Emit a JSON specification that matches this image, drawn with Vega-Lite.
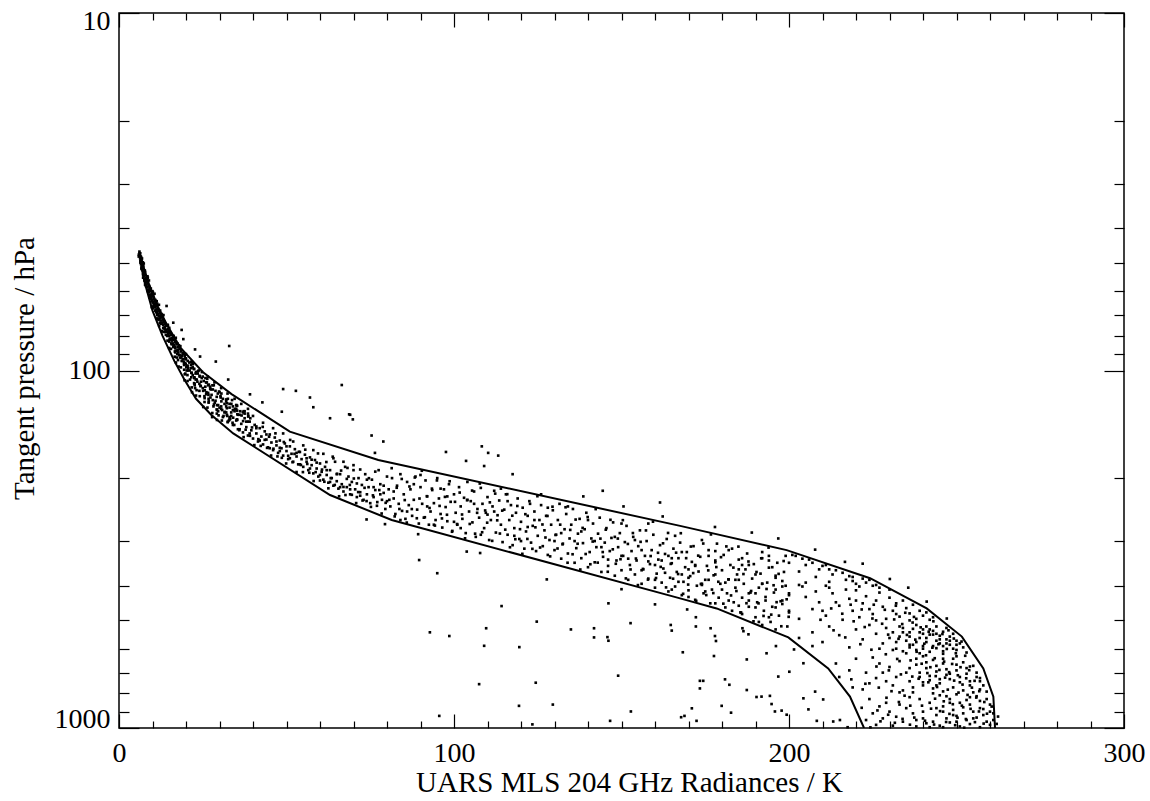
{
"$schema":"https://vega.github.io/schema/vega-lite/v6.json",
"width":1005,"height":715,
"autosize":{"type":"none"},
"padding":{"left":119,"top":13,"right":26,"bottom":73},
"background":"white",
"config":{"view":{"stroke":"black","strokeWidth":1.5},"font":"Liberation Serif","axis":{"domain":false,"grid":false,"labelFont":"Liberation Serif","titleFont":"Liberation Serif","labelFontSize":28,"titleFontSize":29,"labelColor":"black","titleColor":"black","titleFontWeight":"normal","tickColor":"black","tickWidth":1.2}},
"datasets":{
"lns":[
{"s":"a","i":0,"r":6.1,"p":46.7},{"s":"a","i":1,"r":8.5,"p":56},{"s":"a","i":2,"r":11.5,"p":66},{"s":"a","i":3,"r":14.5,"p":75},{"s":"a","i":4,"r":18.2,"p":86},{"s":"a","i":5,"r":25,"p":101},{"s":"a","i":6,"r":33.6,"p":116.4},{"s":"a","i":7,"r":51,"p":148.3},{"s":"a","i":8,"r":77.4,"p":178},{"s":"a","i":9,"r":167.5,"p":272},{"s":"a","i":10,"r":199.3,"p":318},{"s":"a","i":11,"r":224.2,"p":381},{"s":"a","i":12,"r":241.1,"p":463},{"s":"a","i":13,"r":251.6,"p":555},{"s":"a","i":14,"r":258,"p":681},{"s":"a","i":15,"r":261,"p":817},{"s":"a","i":16,"r":261.5,"p":1000},
{"s":"b","i":0,"r":6.1,"p":46.7},{"s":"b","i":1,"r":7.5,"p":56},{"s":"b","i":2,"r":10,"p":68},{"s":"b","i":3,"r":13,"p":80},{"s":"b","i":4,"r":16.5,"p":94},{"s":"b","i":5,"r":19.5,"p":106},{"s":"b","i":6,"r":23,"p":120},{"s":"b","i":7,"r":27.5,"p":133},{"s":"b","i":8,"r":34.1,"p":150},{"s":"b","i":9,"r":63,"p":223},{"s":"b","i":10,"r":81.4,"p":262},{"s":"b","i":11,"r":167.5,"p":434},{"s":"b","i":12,"r":178.4,"p":463},{"s":"b","i":13,"r":199.8,"p":558},{"s":"b","i":14,"r":211.7,"p":681},{"s":"b","i":15,"r":218.2,"p":817},{"s":"b","i":16,"r":222.4,"p":1000}
],
"pts":[
{"r":6.1,"p":46.5},{"r":6.3,"p":47},{"r":6.0,"p":47.5},{"r":6.5,"p":48},{"r":6.3,"p":48.5},{"r":6.7,"p":49},{"r":6.4,"p":49.5},{"r":6.9,"p":50},{"r":6.6,"p":50.5},{"r":7.1,"p":51},{"r":6.8,"p":51.5},{"r":7.3,"p":52},{"r":7.0,"p":52.5},{"r":7.6,"p":53},{"r":7.2,"p":53.5},{"r":7.9,"p":54},{"r":7.4,"p":54.5},{"r":8.1,"p":55},{"r":7.7,"p":55.5},{"r":8.4,"p":56},{"r":8.0,"p":56.5},{"r":8.6,"p":57},{"r":8.2,"p":57.5},{"r":9.0,"p":58},{"r":8.5,"p":58.5},{"r":9.2,"p":59},{"r":8.8,"p":59.5},{"r":9.4,"p":60},{"r":8.9,"p":60.5},{"r":9.7,"p":61},{"r":9.3,"p":61.5},{"r":10.0,"p":62},{"r":9.5,"p":62.5},{"r":10.3,"p":63},{"r":9.9,"p":63.5},{"r":10.6,"p":64},{"r":10.1,"p":64.5},{"r":10.9,"p":65},{"r":10.4,"p":65.5},{"r":11.2,"p":66},{"r":10.7,"p":66.5},{"r":11.5,"p":67},{"r":11.0,"p":67.5},{"r":11.9,"p":68},{"r":11.3,"p":68.5},{"r":12.1,"p":69},{"r":11.7,"p":69.5},{"r":12.4,"p":70},{"r":11.9,"p":70.5},{"r":12.8,"p":71},{"r":12.2,"p":71.5},{"r":13.1,"p":72},{"r":12.5,"p":72.5},{"r":13.4,"p":73},{"r":12.9,"p":73.5},{"r":13.8,"p":74},{"r":13.2,"p":74.5},{"r":14.0,"p":75},{"r":13.6,"p":76},{"r":14.6,"p":76.5},{"r":13.9,"p":77},{"r":14.9,"p":77.5},{"r":14.3,"p":78},{"r":15.3,"p":78.5},{"r":14.7,"p":79},{"r":15.6,"p":79.5},{"r":15.0,"p":80},{"r":15.9,"p":81},{"r":15.2,"p":81.5},{"r":16.3,"p":82},{"r":15.8,"p":82.5},{"r":16.7,"p":83},{"r":16.1,"p":84},{"r":17.2,"p":84.5},{"r":16.5,"p":85},{"r":17.6,"p":86},{"r":16.8,"p":86.5},{"r":18.1,"p":87},{"r":17.3,"p":88},{"r":18.5,"p":88.5},{"r":17.7,"p":89},{"r":19.0,"p":90},{"r":18.1,"p":90.5},{"r":19.6,"p":91},{"r":18.6,"p":92},{"r":20.0,"p":92.5},{"r":19.1,"p":93},{"r":20.5,"p":94},{"r":19.4,"p":94.5},{"r":21.0,"p":95},{"r":19.9,"p":96},{"r":21.5,"p":96.5},{"r":20.3,"p":97},{"r":22.0,"p":98},{"r":20.7,"p":98.5},{"r":22.4,"p":99},{"r":21.1,"p":100},{"r":23.0,"p":101},{"r":21.6,"p":101.5},{"r":23.5,"p":102},{"r":22.0,"p":103},{"r":24.1,"p":104},{"r":22.5,"p":104.5},{"r":24.7,"p":105},{"r":22.9,"p":106},{"r":25.3,"p":107},{"r":23.4,"p":107.5},{"r":26.0,"p":108},{"r":24.0,"p":109},{"r":26.6,"p":110},{"r":24.4,"p":110.5},{"r":27.2,"p":111},{"r":25.0,"p":112},{"r":28.0,"p":113},{"r":25.6,"p":113.5},{"r":28.8,"p":114},{"r":26.1,"p":115},{"r":29.5,"p":116},{"r":26.7,"p":117},{"r":30.3,"p":118},{"r":27.3,"p":119},{"r":31.0,"p":120},{"r":28.0,"p":121},{"r":32.0,"p":122},{"r":28.6,"p":123},{"r":33.0,"p":124},{"r":29.3,"p":125},{"r":34.0,"p":126},{"r":30.0,"p":127},{"r":35.0,"p":128},{"r":30.8,"p":129},{"r":36.2,"p":130},{"r":31.5,"p":131},{"r":37.5,"p":132},{"r":32.2,"p":133},{"r":38.6,"p":134},{"r":33.0,"p":135},
{"r":5.9,"p":48},{"r":6.4,"p":50},{"r":6.7,"p":52},{"r":7.2,"p":54},{"r":7.6,"p":56},{"r":8.1,"p":58},{"r":8.6,"p":60},{"r":9.2,"p":62},{"r":9.8,"p":64},{"r":10.3,"p":66},{"r":10.8,"p":68},{"r":11.4,"p":70},{"r":11.9,"p":72},{"r":12.5,"p":74},{"r":13.2,"p":76},{"r":13.8,"p":78},{"r":14.4,"p":80},{"r":15.1,"p":82},{"r":15.6,"p":84},{"r":16.2,"p":86},{"r":16.9,"p":88},{"r":17.4,"p":90},{"r":18.2,"p":92},{"r":18.8,"p":94},{"r":19.4,"p":96},{"r":20.1,"p":98},{"r":20.6,"p":100},{"r":8.6,"p":55},{"r":10.0,"p":60},{"r":11.4,"p":65},{"r":13.0,"p":70},{"r":14.6,"p":75},{"r":16.3,"p":80},{"r":17.9,"p":85},{"r":19.8,"p":90},{"r":21.8,"p":95},{"r":23.8,"p":100},{"r":25.8,"p":105},{"r":27.9,"p":110},{"r":30.0,"p":115},{"r":32.5,"p":120},{"r":35.0,"p":125},{"r":37.5,"p":130},
{"r":19.8,"p":102},{"r":21.2,"p":106},{"r":22.6,"p":110},{"r":24.0,"p":114},{"r":25.5,"p":118},{"r":26.8,"p":122},{"r":28.2,"p":126},{"r":29.6,"p":130},{"r":31.2,"p":134},{"r":32.8,"p":138},{"r":34.4,"p":142},{"r":26.5,"p":104},{"r":28.5,"p":108},{"r":30.5,"p":112},{"r":32.4,"p":116},{"r":34.5,"p":120},{"r":36.5,"p":124},{"r":38.5,"p":128},
{"r":6.25,"p":47},{"r":6.09,"p":47.8},{"r":6.86,"p":48.6},{"r":6.52,"p":49.4},{"r":7.39,"p":50.2},{"r":7.22,"p":51},{"r":6.95,"p":52},{"r":7.8,"p":53},{"r":7.6,"p":54},{"r":7.2,"p":55},{"r":8.93,"p":56},{"r":8.59,"p":57},{"r":8.09,"p":58},{"r":9.5,"p":59},{"r":8.94,"p":60},{"r":10.6,"p":61},{"r":10.16,"p":62},{"r":9.54,"p":63},{"r":11.24,"p":64},{"r":10.53,"p":65},{"r":10.93,"p":66},{"r":10.16,"p":67},{"r":12.28,"p":68},{"r":11.25,"p":69},{"r":13.27,"p":70},{"r":12.6,"p":71},{"r":11.76,"p":72},{"r":13.46,"p":73},{"r":12.93,"p":74},{"r":12.0,"p":75},{"r":15.0,"p":76},{"r":14.2,"p":77},{"r":13.28,"p":78},{"r":15.5,"p":79},{"r":14.46,"p":80},{"r":16.95,"p":81},{"r":16.1,"p":82},{"r":14.98,"p":83},{"r":17.41,"p":84},{"r":16.27,"p":85},{"r":16.78,"p":86},{"r":15.5,"p":87},{"r":18.58,"p":88},{"r":16.83,"p":89},{"r":19.98,"p":90},{"r":18.78,"p":91},{"r":17.24,"p":92},{"r":19.93,"p":93},{"r":18.77,"p":94},{"r":17.0,"p":95},{"r":22.06,"p":96},{"r":20.48,"p":97},{"r":18.47,"p":98},{"r":22.38,"p":99},{"r":20.2,"p":100},{"r":24.75,"p":101},{"r":22.86,"p":102},{"r":20.43,"p":103},{"r":24.99,"p":104},{"r":22.49,"p":105},{"r":23.2,"p":106},{"r":20.47,"p":107},{"r":26.22,"p":108},{"r":22.58,"p":109},{"r":28.29,"p":110},{"r":25.77,"p":111},{"r":22.72,"p":112},{"r":27.45,"p":113},{"r":25.12,"p":114},{"r":21.8,"p":115},{"r":30.56,"p":116},{"r":27.63,"p":117},{"r":24.11,"p":118},{"r":30.36,"p":119},{"r":26.74,"p":120},{"r":33.75,"p":121},{"r":30.56,"p":122},{"r":26.75,"p":123},{"r":33.54,"p":124},{"r":29.6,"p":125},{"r":30.5,"p":126},{"r":26.4,"p":127},{"r":34.6,"p":128},{"r":29.3,"p":129},{"r":37.2,"p":130},{"r":33.5,"p":131},{"r":29.2,"p":132},{"r":35.5,"p":133},{"r":32.3,"p":134},{"r":27.8,"p":135},{"r":39.2,"p":136},{"r":35.2,"p":137},{"r":30.7,"p":138},{"r":38.5,"p":139},{"r":33.9,"p":140},
{"r":5.95,"p":47.4},{"r":6.59,"p":48.2},{"r":6.45,"p":49},{"r":7.13,"p":49.8},{"r":6.95,"p":50.6},{"r":6.72,"p":51.5},{"r":7.7,"p":52.5},{"r":7.21,"p":53.5},{"r":8.5,"p":54.5},{"r":8.13,"p":55.5},{"r":8.2,"p":56.5},{"r":7.79,"p":57.5},{"r":9.17,"p":58.5},{"r":8.61,"p":59.5},{"r":10.13,"p":60.5},{"r":9.68,"p":61.5},{"r":9.17,"p":62.5},{"r":10.86,"p":63.5},{"r":10.16,"p":64.5},{"r":11.92,"p":65.5},{"r":9.77,"p":66.5},{"r":11.61,"p":67.5},{"r":11.11,"p":68.5},{"r":12.71,"p":69.5},{"r":12.05,"p":70.5},{"r":11.35,"p":71.5},{"r":13.31,"p":72.5},{"r":12.2,"p":73.5},{"r":14.55,"p":74.5},{"r":13.64,"p":75.5},{"r":13.6,"p":76.5},{"r":12.81,"p":77.5},{"r":15.02,"p":78.5},{"r":13.99,"p":79.5},{"r":16.27,"p":80.5},{"r":15.4,"p":81.5},{"r":14.48,"p":82.5},{"r":16.88,"p":83.5},{"r":15.75,"p":84.5},{"r":18.31,"p":85.5},{"r":14.97,"p":86.5},{"r":17.63,"p":87.5},{"r":16.67,"p":88.5},{"r":19.13,"p":89.5},{"r":17.94,"p":90.5},{"r":16.63,"p":91.5},{"r":19.76,"p":92.5},{"r":17.62,"p":93.5},{"r":21.49,"p":94.5},{"r":19.75,"p":95.5},{"r":19.5,"p":96.5},{"r":17.79,"p":97.5},{"r":21.57,"p":98.5},{"r":19.45,"p":99.5},{"r":23.56,"p":100.5},{"r":21.67,"p":101.5},{"r":19.62,"p":102.5},{"r":24.07,"p":103.5},{"r":21.59,"p":104.5},{"r":26.35,"p":105.5},{"r":19.57,"p":106.5},{"r":24.48,"p":107.5},{"r":22.42,"p":108.5},{"r":26.83,"p":109.5},{"r":24.32,"p":110.5},{"r":21.7,"p":111.5},{"r":27.23,"p":112.5},{"r":23.16,"p":113.5},{"r":29.86,"p":114.5},{"r":26.6,"p":115.5},{"r":26.02,"p":116.5},{"r":22.98,"p":117.5},{"r":29.17,"p":118.5},{"r":25.56,"p":119.5},{"r":31.99,"p":120.5},{"r":28.81,"p":121.5},{"r":25.53,"p":122.5},{"r":32.25,"p":123.5},{"r":28.34,"p":124.5},{"r":35.27,"p":125.5},{"r":25.15,"p":126.5},{"r":32.2,"p":127.5},{"r":29.16,"p":128.5},{"r":35.27,"p":129.5},{"r":31.6,"p":130.5},{"r":27.85,"p":131.5},{"r":35.33,"p":132.5},{"r":29.72,"p":133.5},{"r":38.56,"p":134.5},{"r":34.08,"p":135.5},{"r":33.2,"p":136.5},{"r":29.24,"p":137.5},{"r":37.05,"p":138.5},{"r":32.44,"p":139.5},
{"r":14.2,"p":66},{"r":16.2,"p":73.5},{"r":18.7,"p":77},{"r":19.2,"p":81.7},{"r":22.7,"p":87.3},{"r":32.9,"p":85.4},{"r":28.9,"p":94.4},{"r":24.2,"p":91.4},{"r":32.6,"p":106},{"r":39.1,"p":116.6},{"r":42.8,"p":122.8},{"r":48.6,"p":130.4},{"r":49,"p":112.7},{"r":52.8,"p":114},{"r":57,"p":119},{"r":58,"p":126.7},{"r":66.5,"p":109.8},{"r":63,"p":136},{"r":68.7,"p":132.6},{"r":69,"p":133},{"r":69.8,"p":137},{"r":75.4,"p":152},{"r":78.9,"p":158},{"r":76.4,"p":170},{"r":97.6,"p":169},{"r":103.6,"p":179},{"r":108.3,"p":163},{"r":110.2,"p":170},{"r":113.2,"p":173},{"r":109,"p":185},{"r":117.5,"p":195},{"r":144.4,"p":217},{"r":150.6,"p":240},{"r":161.5,"p":234},{"r":138.6,"p":225},{"r":177.9,"p":274},{"r":188.9,"p":284},{"r":196.8,"p":295},{"r":207.8,"p":317},{"r":216.7,"p":343},{"r":222,"p":347},{"r":230.1,"p":383},{"r":235.6,"p":405},{"r":241.1,"p":443},{"r":247.1,"p":494},{"r":254,"p":673},{"r":257,"p":725},{"r":259,"p":791},{"r":260.5,"p":871},{"r":262.4,"p":929},{"r":262,"p":974},{"r":162.3,"p":256},
{"r":30.5,"p":128},{"r":31,"p":135},{"r":31.5,"p":124},{"r":32,"p":131},{"r":32.5,"p":139},{"r":33,"p":127},{"r":33.5,"p":134},{"r":34,"p":142},{"r":34.5,"p":130},{"r":35,"p":138},{"r":35.5,"p":146},{"r":36,"p":133},{"r":36.5,"p":141},{"r":37,"p":149},{"r":37.5,"p":136},{"r":38,"p":144},{"r":38.5,"p":152},{"r":39,"p":139},{"r":39.5,"p":147},{"r":40,"p":155},{"r":40.5,"p":142},{"r":41,"p":150},{"r":41.5,"p":158},{"r":42,"p":145},{"r":42.5,"p":153},{"r":43,"p":161},{"r":43.5,"p":148},{"r":44,"p":156},{"r":44.5,"p":164},{"r":45,"p":151},{"r":45.5,"p":159},{"r":46,"p":167},{"r":46.5,"p":154},{"r":47,"p":162},{"r":47.5,"p":170},{"r":48,"p":157},{"r":48.5,"p":165},{"r":49,"p":173},{"r":49.5,"p":160},{"r":50,"p":168},{"r":50.5,"p":177},{"r":51,"p":163},{"r":51.5,"p":171},{"r":52,"p":180},{"r":52.5,"p":166},{"r":53,"p":174},{"r":53.5,"p":183},{"r":54,"p":169},{"r":54.5,"p":177},{"r":55,"p":186},{"r":55.5,"p":172},{"r":56,"p":180},{"r":56.5,"p":190},{"r":57,"p":175},{"r":57.5,"p":184},{"r":58,"p":194},{"r":58.5,"p":178},{"r":59,"p":188},{"r":59.5,"p":198},{"r":60,"p":182},{"r":60.5,"p":192},{"r":61,"p":202},{"r":61.5,"p":186},{"r":62,"p":196},{"r":62.5,"p":206},{"r":63,"p":190},{"r":63.5,"p":200},{"r":64,"p":210},{"r":64.5,"p":180},{"r":65,"p":204},{"r":65.5,"p":214},{"r":66,"p":195},{"r":66.5,"p":208},{"r":67,"p":218},{"r":67.5,"p":186},{"r":68,"p":212},{"r":68.5,"p":198},{"r":69,"p":222},{"r":69.5,"p":205},{"r":70,"p":190},{"r":70.5,"p":215},{"r":71,"p":226},{"r":71.5,"p":200},{"r":72,"p":219},{"r":72.5,"p":209},{"r":73,"p":230},{"r":73.5,"p":195},{"r":74,"p":222},{"r":74.5,"p":212},{"r":75,"p":235},{"r":75.5,"p":202},{"r":76,"p":226},{"r":76.5,"p":216},{"r":77,"p":239},{"r":77.5,"p":190},{"r":78,"p":208},{"r":78.5,"p":230},{"r":79,"p":220},{"r":79.5,"p":244},{"r":80,"p":198},
{"r":32,"p":126},{"r":33,"p":137},{"r":34,"p":129},{"r":35,"p":125},{"r":36,"p":146},{"r":37,"p":131},{"r":38,"p":139},{"r":39,"p":150},{"r":40,"p":134},{"r":41,"p":145},{"r":42,"p":157},{"r":43,"p":140},{"r":44,"p":151},{"r":45,"p":165},{"r":46,"p":145},{"r":47,"p":158},{"r":48,"p":168},{"r":49,"p":150},{"r":50,"p":163},{"r":51,"p":176},{"r":52,"p":158},{"r":53,"p":170},{"r":54,"p":183},{"r":55,"p":162},{"r":56,"p":176},{"r":57,"p":188},{"r":58,"p":167},{"r":59,"p":181},{"r":60,"p":196},{"r":61,"p":171},{"r":62,"p":190},{"r":63,"p":205},{"r":64,"p":176},{"r":65,"p":195},{"r":66,"p":212},{"r":67,"p":180},{"r":68,"p":201},{"r":69,"p":215},{"r":70,"p":184},{"r":71,"p":207},{"r":72,"p":224},{"r":74,"p":202},{"r":76,"p":212},{"r":78,"p":222},{"r":80,"p":232},
{"r":35.3,"p":137.4},{"r":35.9,"p":146.9},{"r":36.6,"p":133.6},{"r":37.2,"p":153.6},{"r":37.8,"p":146.4},{"r":38.5,"p":132},{"r":39.1,"p":152.3},{"r":39.7,"p":144.3},{"r":40.4,"p":161.7},{"r":41.0,"p":143.4},{"r":41.6,"p":155.6},{"r":42.3,"p":162.5},{"r":42.9,"p":143.8},{"r":43.5,"p":156.3},{"r":44.2,"p":164.6},{"r":44.8,"p":153.2},{"r":45.4,"p":172.9},{"r":46.1,"p":165.5},{"r":46.7,"p":149.9},{"r":47.3,"p":173.9},{"r":48.0,"p":164.5},{"r":48.6,"p":175.5},{"r":49.2,"p":158.5},{"r":49.9,"p":182},{"r":50.5,"p":173.2},{"r":51.1,"p":156.4},{"r":51.8,"p":180.5},{"r":52.4,"p":171.1},{"r":53.0,"p":192.3},{"r":53.7,"p":168.8},{"r":54.3,"p":183.8},{"r":54.9,"p":192.4},{"r":55.6,"p":166.5},{"r":56.2,"p":182.6},{"r":56.8,"p":193.2},{"r":57.5,"p":177.6},{"r":58.1,"p":203.8},{"r":58.7,"p":192.4},{"r":59.4,"p":170.6},{"r":60.0,"p":203.1},{"r":60.6,"p":189.3},{"r":61.3,"p":204.7},{"r":61.9,"p":180.3},{"r":62.5,"p":213.6},{"r":63.2,"p":200},{"r":63.8,"p":174.2},{"r":64.4,"p":209},{"r":65.1,"p":194.5},{"r":65.7,"p":224.8},{"r":66.3,"p":190.5},{"r":67.0,"p":211.7},{"r":67.6,"p":223},{"r":68.2,"p":187.3},{"r":68.9,"p":209},{"r":69.5,"p":222.7},{"r":70.1,"p":200.5},{"r":70.8,"p":234.9},{"r":71.4,"p":218.8},{"r":72.0,"p":189.2},{"r":72.7,"p":231},{"r":73.3,"p":212.9},{"r":73.9,"p":231.9},{"r":74.6,"p":200.1},{"r":75.2,"p":240.7},{"r":75.8,"p":223.5},{"r":76.5,"p":191.8},{"r":77.1,"p":233.4},{"r":77.7,"p":216},{"r":78.4,"p":251.2},{"r":79.0,"p":210},{"r":79.6,"p":234.5},
{"r":80.5,"p":215},{"r":81,"p":240},{"r":81.5,"p":200},{"r":82,"p":228},{"r":82.5,"p":252},{"r":83,"p":210},{"r":83.5,"p":236},{"r":84,"p":195},{"r":84.5,"p":247},{"r":85,"p":222},{"r":85.5,"p":260},{"r":86,"p":205},{"r":86.5,"p":238},{"r":87,"p":215},{"r":87.5,"p":255},{"r":88,"p":230},{"r":88.5,"p":198},{"r":89,"p":245},{"r":89.5,"p":268},{"r":90,"p":212},{"r":90.5,"p":236},{"r":91,"p":258},{"r":91.5,"p":203},{"r":92,"p":225},{"r":92.5,"p":270},{"r":93,"p":248},{"r":93.5,"p":216},{"r":94,"p":235},{"r":94.5,"p":262},{"r":95,"p":200},{"r":95.5,"p":228},{"r":96,"p":252},{"r":96.5,"p":275},{"r":97,"p":215},{"r":97.5,"p":241},{"r":98,"p":264},{"r":98.5,"p":208},{"r":99,"p":233},{"r":99.5,"p":281},{"r":100,"p":222},{"r":100.5,"p":250},{"r":101,"p":270},{"r":101.5,"p":212},{"r":102,"p":240},{"r":102.5,"p":260},{"r":103,"p":227},{"r":103.5,"p":285},{"r":104,"p":205},{"r":104.5,"p":248},{"r":105,"p":232},{"r":105.5,"p":266},{"r":106,"p":218},{"r":106.5,"p":292},{"r":107,"p":244},{"r":107.5,"p":258},{"r":108,"p":213},{"r":108.5,"p":236},{"r":109,"p":276},{"r":109.5,"p":250},{"r":110,"p":226},{"r":110.5,"p":298},{"r":111,"p":262},{"r":111.5,"p":240},{"r":112,"p":217},{"r":112.5,"p":284},{"r":113,"p":254},{"r":113.5,"p":231},{"r":114,"p":270},{"r":114.5,"p":302},{"r":115,"p":245},{"r":115.5,"p":222},{"r":116,"p":288},{"r":116.5,"p":262},{"r":117,"p":238},{"r":117.5,"p":308},{"r":118,"p":276},{"r":118.5,"p":250},{"r":119,"p":228},{"r":119.5,"p":296},{"r":120,"p":265},{"r":120.5,"p":242},{"r":121,"p":315},{"r":121.5,"p":282},{"r":122,"p":255},{"r":122.5,"p":232},{"r":123,"p":303},{"r":123.5,"p":272},{"r":124,"p":248},{"r":124.5,"p":320},{"r":125,"p":290},{"r":125.5,"p":262},{"r":126,"p":238},{"r":126.5,"p":310},{"r":127,"p":280},{"r":127.5,"p":255},{"r":128,"p":328},{"r":128.5,"p":298},{"r":129,"p":270},{"r":129.5,"p":246},{"r":130,"p":318},{"r":130.5,"p":288},{"r":131,"p":262},{"r":131.5,"p":236},{"r":132,"p":336},{"r":132.5,"p":305},{"r":133,"p":278},{"r":133.5,"p":252},{"r":134,"p":325},{"r":134.5,"p":295},{"r":135,"p":270},{"r":135.5,"p":244},{"r":136,"p":345},{"r":136.5,"p":314},{"r":137,"p":286},{"r":137.5,"p":260},{"r":138,"p":335},{"r":138.5,"p":304},{"r":139,"p":278},{"r":139.5,"p":250},{"r":140,"p":355},{"r":140.5,"p":322},{"r":141,"p":295},{"r":141.5,"p":268},{"r":142,"p":344},{"r":142.5,"p":312},{"r":143,"p":286},{"r":143.5,"p":258},{"r":144,"p":366},{"r":144.5,"p":332},{"r":145,"p":303},{"r":145.5,"p":276},{"r":146,"p":352},{"r":146.5,"p":320},{"r":147,"p":294},{"r":147.5,"p":266},{"r":148,"p":375},{"r":148.5,"p":340},{"r":149,"p":312},{"r":149.5,"p":285},{"r":150,"p":362},{"r":150.5,"p":330},{"r":151,"p":302},{"r":151.5,"p":272},{"r":152,"p":385},{"r":152.5,"p":350},{"r":153,"p":320},{"r":153.5,"p":292},{"r":154,"p":372},{"r":154.5,"p":340},{"r":155,"p":310},{"r":155.5,"p":280},{"r":156,"p":395},{"r":156.5,"p":360},{"r":157,"p":330},{"r":157.5,"p":300},{"r":158,"p":382},{"r":158.5,"p":348},{"r":159,"p":318},{"r":159.5,"p":288},{"r":160,"p":405},{"r":160.5,"p":370},{"r":161,"p":338},{"r":161.5,"p":308},{"r":162,"p":392},{"r":162.5,"p":358},{"r":163,"p":326},{"r":163.5,"p":296},{"r":164,"p":415},{"r":164.5,"p":380},{"r":165,"p":346},{"r":165.5,"p":315},{"r":166,"p":402},{"r":166.5,"p":366},{"r":167,"p":335},{"r":167.5,"p":303},{"r":168,"p":425},{"r":168.5,"p":390},{"r":169,"p":355},{"r":169.5,"p":322},{"r":170,"p":412},{"r":170.5,"p":376},{"r":171,"p":343},{"r":171.5,"p":310},{"r":172,"p":438},{"r":172.5,"p":400},{"r":173,"p":365},{"r":173.5,"p":332},{"r":174,"p":298},{"r":174.5,"p":420},{"r":175,"p":385},{"r":175.5,"p":352},{"r":176,"p":318},{"r":176.5,"p":448},{"r":177,"p":410},{"r":177.5,"p":374},{"r":178,"p":340},{"r":178.5,"p":305},{"r":179,"p":432},{"r":179.5,"p":395},{"r":180,"p":362},{"r":180.5,"p":328},{"r":181,"p":460},{"r":181.5,"p":420},{"r":182,"p":384},{"r":182.5,"p":350},{"r":183,"p":315},{"r":183.5,"p":445},{"r":184,"p":405},{"r":184.5,"p":372},{"r":185,"p":338},{"r":185.5,"p":475},{"r":186,"p":432},{"r":186.5,"p":395},{"r":187,"p":360},{"r":187.5,"p":325},{"r":188,"p":458},{"r":188.5,"p":418},{"r":189,"p":382},{"r":189.5,"p":348},{"r":190,"p":490},{"r":190.5,"p":445},{"r":191,"p":405},{"r":191.5,"p":370},{"r":192,"p":335},{"r":192.5,"p":470},{"r":193,"p":430},{"r":193.5,"p":392},{"r":194,"p":356},{"r":194.5,"p":505},{"r":195,"p":458},{"r":195.5,"p":418},{"r":196,"p":380},{"r":196.5,"p":345},{"r":197,"p":485},{"r":197.5,"p":442},{"r":198,"p":402},{"r":198.5,"p":366},{"r":199,"p":330},{"r":199.5,"p":520},{"r":200,"p":470},
{"r":80.7,"p":230},{"r":81.4,"p":187.6},{"r":82.3,"p":255.9},{"r":82.9,"p":212.8},{"r":83.7,"p":244},{"r":84.4,"p":201.1},{"r":85.3,"p":230.4},{"r":85.9,"p":266.3},{"r":86.7,"p":211.1},{"r":87.4,"p":244.1},{"r":88.3,"p":199.2},{"r":88.9,"p":259},{"r":89.7,"p":228.1},{"r":90.4,"p":190.7},{"r":91.3,"p":257.3},{"r":91.9,"p":224.7},{"r":92.7,"p":242.4},{"r":93.4,"p":214},{"r":94.3,"p":271.5},{"r":94.9,"p":203},{"r":95.7,"p":239.2},{"r":96.4,"p":259.3},{"r":97.3,"p":225.7},{"r":97.9,"p":253.2},{"r":98.7,"p":204.1},{"r":99.4,"p":282.5},{"r":100.3,"p":233},{"r":100.9,"p":268.8},{"r":101.7,"p":219.5},{"r":102.4,"p":252.8},{"r":103.3,"p":294.7},{"r":103.9,"p":230.6},{"r":104.7,"p":268.7},{"r":105.4,"p":216.7},{"r":106.3,"p":286},{"r":106.9,"p":250.1},{"r":107.7,"p":207.1},{"r":108.4,"p":283.4},{"r":109.3,"p":246.3},{"r":109.9,"p":266.5},{"r":110.7,"p":233.8},{"r":111.4,"p":299.6},{"r":112.3,"p":221},{"r":112.9,"p":262.5},{"r":113.7,"p":285.8},{"r":114.4,"p":246.6},{"r":115.3,"p":278.7},{"r":115.9,"p":221.8},{"r":116.7,"p":312.2},{"r":117.4,"p":254.8},{"r":118.3,"p":296.5},{"r":118.9,"p":239.3},{"r":119.7,"p":277.9},{"r":120.4,"p":325.7},{"r":121.3,"p":252.3},{"r":121.9,"p":295.9},{"r":122.7,"p":236},{"r":123.4,"p":315.4},{"r":124.3,"p":274.6},{"r":124.9,"p":224.7},{"r":125.7,"p":312.7},{"r":126.4,"p":269.6},{"r":127.3,"p":293.2},{"r":127.9,"p":255.2},{"r":128.7,"p":331.1},{"r":129.4,"p":240.4},{"r":130.3,"p":288.4},{"r":130.9,"p":314.7},{"r":131.7,"p":269.9},{"r":132.4,"p":306.4},{"r":133.3,"p":241.3},{"r":133.9,"p":344.9},{"r":134.7,"p":279.2},{"r":135.4,"p":326.6},{"r":136.3,"p":261.2},{"r":136.9,"p":305.2},{"r":137.7,"p":360.3},{"r":138.4,"p":275.6},{"r":139.3,"p":326.1},{"r":139.9,"p":257},{"r":140.7,"p":348.3},{"r":141.4,"p":300.9},{"r":142.3,"p":244.2},{"r":142.9,"p":344.7},{"r":143.7,"p":295.3},{"r":144.4,"p":322},{"r":145.3,"p":278.8},{"r":145.9,"p":365.6},{"r":146.7,"p":261.6},{"r":147.4,"p":316.4},{"r":148.3,"p":347.2},{"r":148.9,"p":295.2},{"r":149.7,"p":337.2},{"r":150.4,"p":262.2},{"r":151.3,"p":381.5},{"r":151.9,"p":305.6},{"r":152.7,"p":360.2},{"r":153.4,"p":284.9},{"r":154.3,"p":335.7},{"r":154.9,"p":398.4},{"r":155.7,"p":301.5},{"r":156.4,"p":358.9},{"r":157.3,"p":280.1},{"r":157.9,"p":384.5},{"r":158.7,"p":330.4},{"r":159.4,"p":264.8},{"r":160.3,"p":380.6},{"r":160.9,"p":323.5},{"r":161.7,"p":354.3},{"r":162.4,"p":304.4},{"r":163.3,"p":404.3},{"r":163.9,"p":284.7},{"r":164.7,"p":347.5},{"r":165.4,"p":382.3},{"r":166.3,"p":323.3},{"r":166.9,"p":371},{"r":167.7,"p":285.2},{"r":168.4,"p":421.3},{"r":169.3,"p":334.9},{"r":169.9,"p":397},{"r":170.7,"p":310.8},{"r":171.4,"p":368.7},{"r":172.3,"p":441},{"r":172.9,"p":329.5},{"r":173.7,"p":395.5},{"r":174.4,"p":304.8},{"r":175.3,"p":424.8},{"r":175.9,"p":362.3},{"r":176.7,"p":287.5},{"r":177.4,"p":419.4},{"r":178.3,"p":354.7},{"r":178.9,"p":389.9},{"r":179.7,"p":332.8},{"r":180.4,"p":448.9},{"r":181.3,"p":310.5},{"r":181.9,"p":384},{"r":182.7,"p":425.8},{"r":183.4,"p":355.9},{"r":184.3,"p":413.9},{"r":184.9,"p":310.9},{"r":185.7,"p":475.4},{"r":186.4,"p":371},{"r":187.3,"p":447.7},{"r":187.9,"p":342.2},{"r":188.7,"p":413.7},{"r":189.4,"p":503},{"r":190.3,"p":366.1},{"r":190.9,"p":448.1},{"r":191.7,"p":335.2},{"r":192.4,"p":485.9},{"r":193.3,"p":408.4},{"r":193.9,"p":312.9},{"r":194.7,"p":481.8},{"r":195.4,"p":398.8},{"r":196.3,"p":444.7},{"r":196.9,"p":370.6},{"r":197.7,"p":519.3},{"r":198.4,"p":341.2},{"r":199.3,"p":436.5},{"r":199.9,"p":488.7},
{"r":82,"p":218},{"r":86,"p":248},{"r":90,"p":196},{"r":94,"p":270},{"r":98,"p":225},{"r":102,"p":276},{"r":106,"p":236},{"r":110,"p":253},{"r":114,"p":214},{"r":118,"p":290},{"r":122,"p":274},{"r":126,"p":222},{"r":130,"p":300},{"r":134,"p":240},{"r":138,"p":282},{"r":142,"p":300},{"r":146,"p":338},{"r":150,"p":268},{"r":154,"p":298},{"r":158,"p":268},{"r":162,"p":340},{"r":166,"p":290},{"r":170,"p":360},{"r":174,"p":395},{"r":178,"p":320},{"r":182,"p":440},{"r":186,"p":350},{"r":190,"p":420},{"r":194,"p":330},{"r":198,"p":440},{"r":84,"p":262},{"r":88,"p":208},{"r":92,"p":240},{"r":96,"p":214},{"r":100,"p":265},{"r":104,"p":230},{"r":108,"p":288},{"r":112,"p":248},{"r":116,"p":232},{"r":120,"p":300},{"r":124,"p":262},{"r":128,"p":242},{"r":132,"p":285},{"r":136,"p":300},{"r":140,"p":262},{"r":144,"p":312},{"r":148,"p":292},{"r":152,"p":336},{"r":156,"p":318},{"r":160,"p":350},{"r":164,"p":330},{"r":168,"p":372},{"r":172,"p":350},{"r":176,"p":385},{"r":180,"p":410},{"r":184,"p":385},{"r":188,"p":440},{"r":192,"p":395},{"r":196,"p":460},{"r":200,"p":420},
{"r":73.9,"p":261},{"r":79.4,"p":269},{"r":89.3,"p":287},{"r":89.6,"p":339},{"r":95,"p":369},{"r":103.8,"p":321},{"r":107.8,"p":324},{"r":127.7,"p":384},{"r":150,"p":409},{"r":114.2,"p":456},{"r":98.6,"p":553},{"r":109.6,"p":526},{"r":109,"p":589},{"r":119.5,"p":594},{"r":124.7,"p":504},{"r":134.9,"p":530},{"r":141.8,"p":526},{"r":141.8,"p":558},{"r":145.8,"p":557},{"r":146.1,"p":570},{"r":146.1,"p":448},{"r":152.7,"p":509},{"r":160,"p":451},{"r":107.5,"p":754},{"r":124.4,"p":747},{"r":119.4,"p":867},{"r":129.5,"p":860},{"r":95.6,"p":925},{"r":123.4,"p":977},{"r":149,"p":714},{"r":152.8,"p":899},{"r":146.6,"p":955},{"r":164.7,"p":515},{"r":165,"p":534},{"r":168.3,"p":614},{"r":169.6,"p":466},{"r":172.2,"p":490},{"r":172.2,"p":520},{"r":173.4,"p":738},{"r":174.4,"p":738},{"r":173.4,"p":775},{"r":176.6,"p":526},{"r":177.9,"p":553},{"r":178.2,"p":571},{"r":177.6,"p":629},{"r":180.9,"p":731},{"r":182.2,"p":757},{"r":171,"p":881},{"r":168.8,"p":925},{"r":167.8,"p":933},{"r":172.4,"p":955},{"r":179.9,"p":867},{"r":182.7,"p":906},{"r":187.4,"p":783},{"r":187.9,"p":547},{"r":186.1,"p":526},{"r":186.4,"p":536},{"r":187.4,"p":643},{"r":191.8,"p":817},{"r":190.3,"p":819},{"r":194.3,"p":813},{"r":194.8,"p":857},{"r":195.8,"p":899},{"r":197.8,"p":894},{"r":199.3,"p":918},{"r":193.3,"p":618},{"r":196.1,"p":590},{"r":196.8,"p":718},{"r":200.1,"p":696},{"r":201.5,"p":603},{"r":204.3,"p":659},{"r":204.3,"p":826},{"r":207.8,"p":791},{"r":210.2,"p":832},{"r":205.8,"p":887},{"r":208.3,"p":955},{"r":213.2,"p":959},{"r":215.2,"p":950},{"r":217.5,"p":995},{"r":92.8,"p":540},
{"r":150,"p":330},{"r":158,"p":342},{"r":165,"p":335},{"r":172,"p":352},{"r":178,"p":344},{"r":185,"p":360},{"r":190,"p":372},{"r":195,"p":355},{"r":200,"p":345},{"r":203,"p":365},{"r":206,"p":338},{"r":208,"p":378},{"r":210,"p":352},{"r":212,"p":390},{"r":214,"p":362},{"r":216,"p":368},{"r":218,"p":376},{"r":220,"p":395},{"r":222,"p":382},{"r":224,"p":385},{"r":226,"p":398},{"r":205,"p":392},{"r":198,"p":388},{"r":192,"p":395},{"r":185,"p":385},{"r":178,"p":372},{"r":170,"p":380},{"r":163,"p":368},{"r":156,"p":362},{"r":204,"p":336},{"r":201,"p":328},{"r":202,"p":330},{"r":207,"p":345},{"r":219,"p":388},{"r":217,"p":385},{"r":213,"p":372},{"r":209,"p":360},{"r":223,"p":392},{"r":225,"p":400},{"r":219,"p":378},{"r":196,"p":375},{"r":188,"p":350},{"r":181,"p":392},{"r":174,"p":398},{"r":167,"p":390},{"r":160,"p":385},{"r":199,"p":400},{"r":203,"p":398},{"r":211,"p":400},{"r":221,"p":402},{"r":227,"p":405},{"r":205,"p":350},{"r":212,"p":360},{"r":211,"p":350},{"r":194,"p":340},{"r":186,"p":335},{"r":176,"p":330},{"r":168,"p":322},{"r":182,"p":318},{"r":192,"p":322},
{"r":183,"p":470},{"r":186,"p":480},{"r":190,"p":460},{"r":194,"p":490},{"r":198,"p":450},{"r":200,"p":475},{"r":203,"p":495},{"r":205,"p":430},{"r":207,"p":465},{"r":209,"p":445},{"r":211,"p":485},{"r":213,"p":420},{"r":215,"p":455},{"r":216,"p":498},{"r":218,"p":435},{"r":219,"p":470},{"r":220,"p":412},{"r":221,"p":490},{"r":222,"p":448},{"r":223,"p":428},{"r":224,"p":465},{"r":225,"p":480},{"r":226,"p":440},{"r":227,"p":418},{"r":228,"p":458},{"r":229,"p":495},{"r":230,"p":432},{"r":231,"p":470},{"r":232,"p":448},{"r":233,"p":488},{"r":234,"p":440},{"r":235,"p":462},{"r":236,"p":478},{"r":237,"p":452},{"r":238,"p":495},{"r":239,"p":470},{"r":240,"p":485},{"r":241,"p":475},{"r":242,"p":498},{"r":243,"p":490},{"r":212,"p":405},{"r":208,"p":415},{"r":200,"p":425},{"r":193,"p":440},{"r":185,"p":455},{"r":178,"p":448},{"r":170,"p":430},{"r":165,"p":410},{"r":175,"p":415},{"r":188,"p":420},{"r":196,"p":410},{"r":204,"p":402},{"r":210,"p":470},{"r":217,"p":410},{"r":226,"p":500},{"r":232,"p":480},{"r":236,"p":500},{"r":214,"p":445},{"r":220,"p":440},{"r":230,"p":410},
{"r":234,"p":525},{"r":236,"p":540},{"r":238,"p":515},{"r":240,"p":530},{"r":242,"p":548},{"r":244,"p":520},{"r":246,"p":538},{"r":248,"p":555},{"r":250,"p":570},{"r":239,"p":560},{"r":241,"p":575},{"r":243,"p":590},{"r":245,"p":565},{"r":247,"p":580},{"r":249,"p":600},{"r":237,"p":585},{"r":235,"p":570},{"r":233,"p":555},{"r":231,"p":540},{"r":229,"p":525},{"r":232,"p":600},{"r":234,"p":610},{"r":236,"p":595},{"r":238,"p":605},{"r":240,"p":590},{"r":242,"p":612},{"r":244,"p":598},{"r":246,"p":610},{"r":248,"p":585},{"r":250,"p":605},{"r":252,"p":595},{"r":240,"p":545},{"r":243,"p":535},{"r":245,"p":552},{"r":247,"p":525},{"r":249,"p":545},{"r":251,"p":580},{"r":236,"p":555},{"r":238,"p":575},{"r":241,"p":520},{"r":244,"p":570},{"r":246,"p":590},{"r":233,"p":520},{"r":230,"p":560},{"r":228,"p":580},{"r":226,"p":545},{"r":224,"p":515},{"r":222,"p":565},{"r":220,"p":530},{"r":218,"p":595},{"r":215,"p":550},{"r":212,"p":520},{"r":210,"p":575},{"r":207,"p":540},{"r":207,"p":590},{"r":203,"p":560},{"r":196,"p":530},{"r":192,"p":515},{"r":191,"p":505},{"r":253,"p":615},{"r":239,"p":618},{"r":235,"p":618},{"r":231,"p":605},{"r":227,"p":600},{"r":237,"p":528},{"r":239,"p":540},{"r":241,"p":560},{"r":243,"p":548},{"r":245,"p":580},{"r":247,"p":565},{"r":234,"p":540},{"r":236,"p":585},{"r":242,"p":530},{"r":244,"p":545},{"r":248,"p":570},{"r":250,"p":585},{"r":232,"p":575},{"r":240,"p":600},{"r":246,"p":620},
{"r":240,"p":630},{"r":243,"p":645},{"r":246,"p":660},{"r":249,"p":640},{"r":252,"p":655},{"r":255,"p":670},{"r":238,"p":665},{"r":241,"p":680},{"r":244,"p":695},{"r":247,"p":710},{"r":250,"p":690},{"r":253,"p":705},{"r":256,"p":720},{"r":235,"p":700},{"r":239,"p":720},{"r":242,"p":735},{"r":245,"p":750},{"r":248,"p":730},{"r":251,"p":745},{"r":254,"p":760},{"r":257,"p":780},{"r":236,"p":740},{"r":240,"p":760},{"r":243,"p":775},{"r":246,"p":790},{"r":249,"p":770},{"r":252,"p":785},{"r":255,"p":795},{"r":233,"p":650},{"r":230,"p":675},{"r":228,"p":700},{"r":226,"p":725},{"r":224,"p":750},{"r":222,"p":780},{"r":220,"p":640},{"r":218,"p":690},{"r":215,"p":720},{"r":214,"p":660},{"r":231,"p":760},{"r":234,"p":785},{"r":237,"p":795},{"r":238,"p":640},{"r":241,"p":655},{"r":244,"p":670},{"r":247,"p":685},{"r":250,"p":665},{"r":253,"p":680},{"r":236,"p":680},{"r":239,"p":700},{"r":242,"p":715},{"r":245,"p":730},{"r":248,"p":705},{"r":251,"p":720},{"r":254,"p":740},{"r":256,"p":700},{"r":232,"p":720},{"r":229,"p":740},{"r":227,"p":660},{"r":225,"p":635},{"r":246,"p":640},{"r":250,"p":630},{"r":240,"p":745},{"r":244,"p":760},{"r":237,"p":770},{"r":233,"p":795},{"r":258,"p":760},{"r":257,"p":740},{"r":219,"p":770},{"r":223,"p":700},
{"r":245,"p":810},{"r":248,"p":830},{"r":251,"p":850},{"r":254,"p":820},{"r":257,"p":840},{"r":260,"p":860},{"r":242,"p":850},{"r":246,"p":870},{"r":249,"p":890},{"r":252,"p":875},{"r":255,"p":900},{"r":258,"p":885},{"r":261,"p":910},{"r":240,"p":900},{"r":244,"p":920},{"r":247,"p":940},{"r":250,"p":925},{"r":253,"p":950},{"r":256,"p":935},{"r":259,"p":960},{"r":238,"p":950},{"r":241,"p":970},{"r":245,"p":985},{"r":248,"p":965},{"r":251,"p":990},{"r":254,"p":975},{"r":257,"p":995},{"r":260,"p":980},{"r":236,"p":820},{"r":233,"p":860},{"r":230,"p":900},{"r":228,"p":940},{"r":226,"p":980},{"r":224,"p":830},{"r":235,"p":880},{"r":232,"p":930},{"r":239,"p":830},{"r":243,"p":800},{"r":247,"p":815},{"r":250,"p":805},{"r":253,"p":835},{"r":256,"p":815},{"r":259,"p":830},{"r":237,"p":910},{"r":240,"p":940},{"r":243,"p":960},{"r":246,"p":900},{"r":249,"p":920},{"r":252,"p":910},{"r":255,"p":940},{"r":258,"p":920},{"r":261,"p":950},{"r":234,"p":960},{"r":231,"p":985},{"r":242,"p":995},{"r":250,"p":960},{"r":229,"p":850},{"r":227,"p":870},{"r":225,"p":910},{"r":223,"p":950},{"r":238,"p":990},{"r":246,"p":995},{"r":254,"p":860},{"r":257,"p":880},{"r":260,"p":900},{"r":244,"p":880},{"r":248,"p":850},
{"r":231.4,"p":497},{"r":233.8,"p":512},{"r":236.9,"p":507},{"r":239.3,"p":523},{"r":241.7,"p":538},{"r":243.1,"p":503},{"r":245.8,"p":546},{"r":247.6,"p":533},{"r":249.2,"p":562},{"r":251.5,"p":573},{"r":229.6,"p":548},{"r":232.7,"p":563},{"r":235.2,"p":549},{"r":237.7,"p":566},{"r":240.4,"p":581},{"r":242.8,"p":596},{"r":244.6,"p":583},{"r":247.1,"p":601},{"r":249.8,"p":618},{"r":252.6,"p":628},{"r":238.1,"p":612},{"r":240.9,"p":626},{"r":243.5,"p":638},{"r":246.3,"p":652},{"r":248.7,"p":662},{"r":251.2,"p":676},{"r":253.8,"p":689},{"r":236.3,"p":647},{"r":239.6,"p":661},{"r":242.2,"p":676},{"r":244.9,"p":688},{"r":247.8,"p":698},{"r":250.4,"p":712},{"r":252.9,"p":726},{"r":255.4,"p":738},{"r":241.3,"p":702},{"r":243.8,"p":716},{"r":246.6,"p":723},{"r":249.3,"p":737},{"r":251.8,"p":756},{"r":254.6,"p":771},{"r":256.8,"p":789},{"r":238.7,"p":728},{"r":241.6,"p":745},{"r":244.2,"p":768},{"r":247.4,"p":781},{"r":250.6,"p":796},{"r":253.3,"p":808},{"r":255.9,"p":822},{"r":258.3,"p":846},{"r":243.6,"p":828},{"r":246.2,"p":842},{"r":248.9,"p":858},{"r":251.6,"p":866},{"r":254.2,"p":884},{"r":256.7,"p":899},{"r":259.1,"p":912},{"r":239.7,"p":866},{"r":242.4,"p":883},{"r":245.1,"p":897},{"r":247.9,"p":913},{"r":250.3,"p":936},{"r":252.8,"p":944},{"r":255.5,"p":963},{"r":258.1,"p":972},{"r":237.4,"p":935},{"r":240.6,"p":954},{"r":243.3,"p":978},{"r":246.9,"p":962},{"r":249.6,"p":982},{"r":252.3,"p":998},{"r":225.3,"p":452},{"r":228.6,"p":467},{"r":231.9,"p":455},{"r":234.7,"p":476},{"r":237.3,"p":489},{"r":218.4,"p":452},{"r":221.7,"p":466},{"r":224.9,"p":494},{"r":227.8,"p":511},{"r":212.6,"p":463},{"r":215.9,"p":479},{"r":219.3,"p":503},{"r":222.6,"p":522},{"r":209.4,"p":498},{"r":213.3,"p":533},{"r":216.8,"p":558},{"r":221.3,"p":583},{"r":224.6,"p":604},{"r":228.9,"p":622},{"r":232.3,"p":641},{"r":226.1,"p":673},{"r":229.8,"p":690},{"r":233.4,"p":708},{"r":236.8,"p":718},{"r":218.6,"p":731},{"r":222.8,"p":752},{"r":226.8,"p":771},{"r":230.6,"p":789},{"r":234.5,"p":812},{"r":229.1,"p":823},{"r":232.8,"p":846},{"r":236.2,"p":866},{"r":221.7,"p":878},{"r":226.4,"p":893},{"r":229.6,"p":918},{"r":233.9,"p":943},{"r":227.3,"p":958},{"r":231.6,"p":967},{"r":236.1,"p":979},{"r":224.3,"p":996}
]
},
"resolve":{"axis":{"x":"independent","y":"independent"}},
"layer":[
{"data":{"name":"pts"},"mark":{"type":"square","size":7,"color":"black","opacity":1},
"encoding":{
"x":{"field":"r","type":"quantitative","scale":{"domain":[0,300],"nice":false,"zero":false},"axis":{"orient":"bottom","values":[0,100,200,300],"format":"d","ticks":false,"labelPadding":11,"labelFlush":false,"title":"UARS MLS 204 GHz Radiances / K","titleBaseline":"alphabetic","titleAlign":"center","titleX":510,"titleY":63}},
"y":{"field":"p","type":"quantitative","scale":{"type":"log","domain":[10,1000],"reverse":true,"nice":false},"axis":{"orient":"left","values":[10,100,1000],"format":"d","ticks":false,"labelPadding":9,"labelFlush":true,"labelFlushOffset":5.5,"title":"Tangent pressure / hPa","titleAngle":-90,"titleBaseline":"alphabetic","titleAlign":"center","titleX":-86,"titleY":355}}
}},
{"data":{"name":"lns"},"mark":{"type":"line","color":"black","strokeWidth":2,"clip":true},
"encoding":{
"x":{"field":"r","type":"quantitative","scale":{"domain":[0,300],"nice":false,"zero":false},"axis":{"orient":"bottom","values":[0,100,200,300],"labels":false,"title":null,"tickSize":-14}},
"y":{"field":"p","type":"quantitative","scale":{"type":"log","domain":[10,1000],"reverse":true,"nice":false},"axis":{"orient":"left","values":[10,100,1000],"labels":false,"title":null,"tickSize":-20}},
"detail":{"field":"s"},"order":{"field":"i"}
}},
{"data":{"name":"lns"},"mark":{"type":"point","opacity":0},
"encoding":{
"x":{"field":"r","type":"quantitative","scale":{"domain":[0,300],"nice":false,"zero":false},"axis":{"orient":"bottom","values":[10,20,30,40,50,60,70,80,90,110,120,130,140,150,160,170,180,190,210,220,230,240,250,260,270,280,290],"labels":false,"title":null,"tickSize":-7}},
"y":{"field":"p","type":"quantitative","scale":{"type":"log","domain":[10,1000],"reverse":true,"nice":false},"axis":{"orient":"left","values":[20,30,40,50,60,70,80,90,200,300,400,500,600,700,800,900],"labels":false,"title":null,"tickSize":-10}}
}},
{"data":{"name":"lns"},"mark":{"type":"point","opacity":0},
"encoding":{
"x":{"field":"r","type":"quantitative","scale":{"domain":[0,300],"nice":false,"zero":false},"axis":{"orient":"top","values":[0,100,200,300],"labels":false,"title":null,"tickSize":-14}},
"y":{"field":"p","type":"quantitative","scale":{"type":"log","domain":[10,1000],"reverse":true,"nice":false},"axis":{"orient":"right","values":[10,100,1000],"labels":false,"title":null,"tickSize":-20}}
}},
{"data":{"name":"lns"},"mark":{"type":"point","opacity":0},
"encoding":{
"x":{"field":"r","type":"quantitative","scale":{"domain":[0,300],"nice":false,"zero":false},"axis":{"orient":"top","values":[10,20,30,40,50,60,70,80,90,110,120,130,140,150,160,170,180,190,210,220,230,240,250,260,270,280,290],"labels":false,"title":null,"tickSize":-7}},
"y":{"field":"p","type":"quantitative","scale":{"type":"log","domain":[10,1000],"reverse":true,"nice":false},"axis":{"orient":"right","values":[20,30,40,50,60,70,80,90,200,300,400,500,600,700,800,900],"labels":false,"title":null,"tickSize":-10}}
}}
]
}
